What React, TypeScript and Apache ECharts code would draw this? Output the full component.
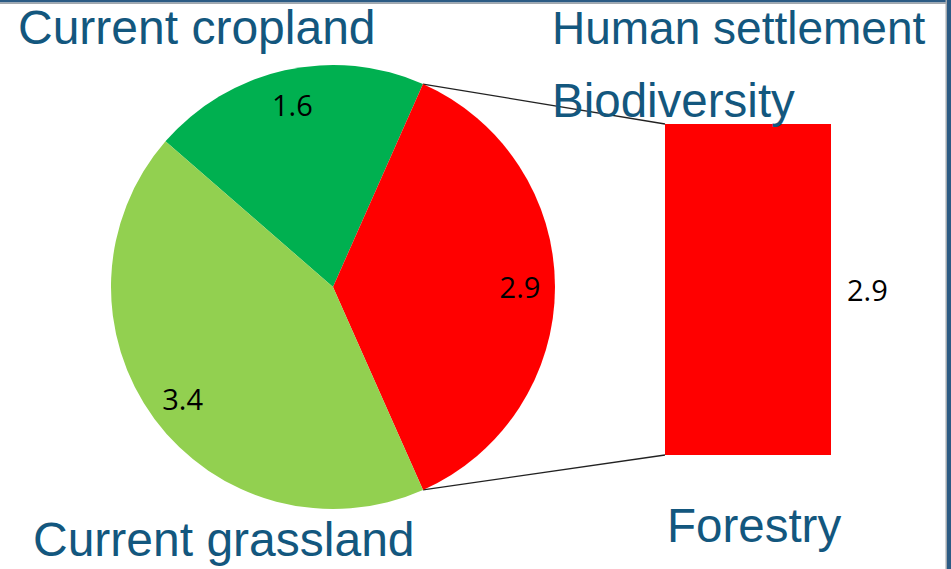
import React, { useEffect, useRef } from "react";
import * as echarts from "echarts";

// ---- data ----
const sliceNames = ["Current cropland", "Biodiversity", "Current grassland"];
const sliceValues = [1.6, 2.9, 3.4];
const sliceColors = ["#00B050", "#FF0000", "#92D050"];
const barCategories = ["Biodiversity"];
const barValues = [2.9];
const annotationTexts = [
  "Current cropland",
  "Human settlement",
  "Biodiversity",
  "Current grassland",
  "Forestry",
];

// ---- layout ----
const W = 951;
const H = 569;
const CX = 333;
const CY = 287;
const R = 222;
const START = 139;
const GRID = { left: 665, top: 124, width: 166, height: 331 };
const TEXT_COLOR = "#13577e";
const TEXT_FAMILY = '"Liberation Sans", Arial, sans-serif';
const NUM_FONT_FAMILY = '"Open Sans", "Noto Sans", sans-serif';
const NUM_SIZE = 29;

const textPos: [number, number][] = [
  [18, 27],
  [552, 28],
  [552, 100],
  [33, 539],
  [667, 525],
];
const textSizes = [48, 46, 47.5, 48, 47.5];

export default function App() {
  const ref = useRef<HTMLDivElement>(null);
  useEffect(() => {
    if (!ref.current) return;
    const chart = echarts.init(ref.current, undefined, { renderer: "svg" });
    const total = sliceValues.reduce((a, b) => a + b, 0);
    const redStart = START - (sliceValues[0] / total) * 360;
    const redEnd = redStart - (sliceValues[1] / total) * 360;
    const pt = (deg: number) => {
      const r = (deg * Math.PI) / 180;
      return [CX + R * Math.cos(r), CY - R * Math.sin(r)];
    };
    const p1 = pt(redStart);
    const p2 = pt(redEnd);
    const barTop = GRID.top;
    const barBottom = GRID.top + GRID.height;

    const pieData = sliceNames.map((n, i) => ({
      name: n,
      value: sliceValues[i],
      itemStyle: { color: sliceColors[i] },
    }));

    chart.setOption({
      animation: false,
      backgroundColor: "#ffffff",
      grid: { ...GRID },
      xAxis: { type: "category", data: barCategories, show: false },
      yAxis: { type: "value", min: 0, max: barValues[0], show: false },
      series: [
        {
          type: "pie",
          center: [CX, CY],
          radius: R,
          startAngle: START,
          clockwise: true,
          silent: true,
          label: { show: false },
          labelLine: { show: false },
          itemStyle: { borderWidth: 0 },
          data: pieData,
        },
        {
          type: "pie",
          center: [CX, CY],
          radius: [146, R],
          startAngle: START,
          clockwise: true,
          silent: true,
          z: 3,
          itemStyle: { color: "transparent", borderWidth: 0 },
          label: {
            show: true,
            position: "inside",
            formatter: "{c}",
            color: "#000",
            fontSize: NUM_SIZE,
            fontFamily: NUM_FONT_FAMILY,
            padding: [6, 0, 0, 0],
          },
          labelLine: { show: false },
          data: sliceNames.map((n, i) => ({ name: n, value: sliceValues[i] })),
        },
        {
          type: "bar",
          data: barValues,
          barWidth: "100%",
          silent: true,
          itemStyle: { color: sliceColors[1] },
          label: {
            show: true,
            position: "right",
            distance: 16,
            color: "#000",
            fontSize: NUM_SIZE,
            fontFamily: NUM_FONT_FAMILY,
            padding: [4, 0, 0, 0],
          },
        },
      ],
      graphic: [
        { type: "rect", shape: { x: 0, y: 0, width: W, height: 2.5 }, style: { fill: "#2c5b84" }, silent: true },
        { type: "rect", shape: { x: 0, y: 2.5, width: W, height: 1.5 }, style: { fill: "#a3a8ad" }, silent: true },
        { type: "rect", shape: { x: 945.5, y: 0, width: 1.5, height: H }, style: { fill: "#a3a8ad" }, silent: true },
        { type: "rect", shape: { x: 947, y: 0, width: 4, height: H }, style: { fill: "#2c5b84" }, silent: true },
        {
          type: "line",
          shape: { x1: p1[0], y1: p1[1], x2: GRID.left, y2: barTop },
          style: { stroke: "#222", lineWidth: 1.3 },
          silent: true,
        },
        {
          type: "line",
          shape: { x1: p2[0], y1: p2[1], x2: GRID.left, y2: barBottom },
          style: { stroke: "#222", lineWidth: 1.3 },
          silent: true,
        },
        ...annotationTexts.map((t, i) => ({
          type: "text",
          x: textPos[i][0],
          y: textPos[i][1],
          z: 10,
          silent: true,
          style: {
            text: t,
            font: `${textSizes[i]}px ${TEXT_FAMILY}`,
            fill: TEXT_COLOR,
            textAlign: "left",
            textVerticalAlign: "middle",
          },
        })),
      ],
    });
    return () => chart.dispose();
  }, []);
  return (
    <div
      ref={ref}
      style={{ position: "fixed", left: 0, top: 0, width: W, height: H }}
    />
  );
}
